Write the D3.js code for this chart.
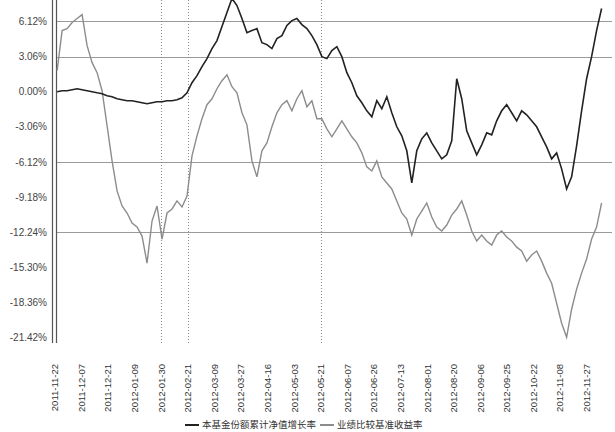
<!DOCTYPE html>
<html><head><meta charset="utf-8">
<script src="https://cdn.jsdelivr.net/npm/d3@7"></script>
<style>html,body{margin:0;padding:0;background:#fff;}svg{display:block;}</style>
</head><body>
<script>
const dateLabels = ["2011-11-22","2011-12-07","2011-12-21","2012-01-09","2012-01-30","2012-02-21","2012-03-09","2012-03-27","2012-04-16","2012-05-03","2012-05-21","2012-06-07","2012-06-26","2012-07-13","2012-08-01","2012-08-20","2012-09-06","2012-09-25","2012-10-22","2012-11-08","2012-11-27"];
const yTicks = [6.12, 3.06, 0.00, -3.06, -6.12, -9.18, -12.24, -15.30, -18.36, -21.42];
const gridTicks = [6.12, 3.06, -6.12, -12.24];
const markerLabels = [4, 5, 10];
const seriesNames = ["本基金份额累计净值增长率", "业绩比较基准收益率"];
const fundValues = [0.00,0.09,0.09,0.17,0.26,0.17,0.09,0.00,-0.09,-0.17,
-0.35,-0.44,-0.61,-0.70,-0.78,-0.78,-0.87,-0.96,-1.05,-0.96,
-0.87,-0.87,-0.78,-0.78,-0.70,-0.52,-0.09,0.78,1.40,2.18,
2.88,3.75,4.45,5.67,6.89,8.11,7.50,6.37,5.14,5.32,
5.49,4.27,4.10,3.75,4.62,4.88,5.76,6.19,6.37,5.84,
5.49,4.88,4.10,3.05,2.88,3.58,3.92,3.05,1.66,0.78,
-0.35,-0.96,-1.66,-2.18,-0.78,-1.48,-0.44,-1.83,-3.05,-3.84,
-5.14,-7.94,-5.14,-4.10,-3.58,-4.45,-5.14,-5.84,-5.49,-4.27,
1.13,-0.61,-3.40,-4.45,-5.49,-4.62,-3.58,-3.75,-2.53,-1.66,
-1.13,-1.83,-2.53,-1.66,-2.01,-2.53,-3.05,-3.92,-4.80,-5.84,
-5.32,-6.71,-8.46,-7.41,-4.71,-1.66,1.13,3.05,5.32,7.24];
const benchValues = [1.83,5.32,5.49,6.02,6.37,6.71,4.01,2.53,1.66,0.09,
-2.96,-6.02,-8.63,-9.94,-10.55,-11.42,-11.77,-12.56,-14.91,-11.25,
-9.94,-12.82,-10.55,-10.20,-9.50,-10.03,-9.07,-5.58,-3.84,-2.35,
-1.13,-0.61,0.26,0.96,1.48,0.44,-0.09,-1.83,-2.88,-6.02,
-7.41,-5.14,-4.45,-3.05,-1.83,-1.13,-0.78,-1.66,-0.61,0.09,
-1.31,-0.78,-2.35,-2.35,-3.23,-3.92,-3.23,-2.53,-3.23,-3.92,
-4.45,-5.32,-6.54,-6.89,-6.02,-7.41,-7.94,-8.46,-9.50,-10.55,
-11.07,-12.47,-11.07,-10.38,-9.68,-10.90,-11.77,-12.12,-11.60,-10.73,
-10.20,-9.50,-10.73,-12.12,-12.99,-12.47,-12.99,-13.34,-12.47,-12.12,
-12.64,-12.99,-13.52,-13.86,-14.74,-14.21,-13.86,-14.74,-15.78,-16.66,
-18.40,-20.14,-21.36,-18.92,-17.18,-15.78,-14.56,-12.82,-11.77,-9.68];
const seriesStart = 0.08, seriesEnd = 20.56; // in label-period units

const W = 615, H = 432;
const svg = d3.select("body").append("svg").attr("width", W).attr("height", H);
const x = d3.scaleLinear().domain([0, 20]).range([55, 586.7]);
const y = d3.scaleLinear().domain([-21.86, 7.98]).range([343, 0]);
const plotTop = 0, plotBottom = 343, plotRight = 612;
const numFont = "'Liberation Sans', Arial, sans-serif";

// horizontal gridlines
svg.append("g").selectAll("line").data(gridTicks).join("line")
  .attr("x1", x(0) + 1).attr("x2", plotRight)
  .attr("y1", d => Math.round(y(d)) + 0.5).attr("y2", d => Math.round(y(d)) + 0.5)
  .attr("stroke", "#9a9a9a").attr("stroke-width", 1);

// vertical dotted marker lines
svg.append("g").selectAll("line").data(markerLabels).join("line")
  .attr("x1", d => Math.round(x(d)) + 0.5).attr("x2", d => Math.round(x(d)) + 0.5)
  .attr("y1", plotTop).attr("y2", plotBottom + 2)
  .attr("stroke", "#8a8a8a").attr("stroke-width", 1).attr("stroke-dasharray", "1,2");

// double axis line at left
[x(0) - 3, x(0) + 1].forEach(px => {
  svg.append("line").attr("x1", Math.round(px) + 0.5).attr("x2", Math.round(px) + 0.5)
    .attr("y1", plotTop).attr("y2", plotBottom)
    .attr("stroke", "#555").attr("stroke-width", 1.2);
});

// y tick labels
svg.append("g").selectAll("text").data(yTicks).join("text")
  .attr("x", 47).attr("y", d => y(d)).attr("dy", "0.35em")
  .attr("text-anchor", "end").attr("font-family", numFont).attr("font-size", 10)
  .attr("fill", "#444").text(d => d.toFixed(2) + "%");

// x tick labels (rotated)
svg.append("g").selectAll("text").data(dateLabels).join("text")
  .attr("transform", (d, i) => `translate(${x(i)},${364}) rotate(-90)`)
  .attr("dy", "0.35em").attr("text-anchor", "end")
  .attr("font-family", numFont).attr("font-size", 9.5).attr("fill", "#333")
  .text(d => d);

// series lines
function sx(i, n) { return x(seriesStart + (seriesEnd - seriesStart) * i / (n - 1)); }
const line = d3.line().x((d, i, arr) => sx(i, arr.length)).y(d => y(d));
svg.append("path").datum(benchValues).attr("d", line)
  .attr("fill", "none").attr("stroke", "#8c8c8c").attr("stroke-width", 1.4);
svg.append("path").datum(fundValues).attr("d", line)
  .attr("fill", "none").attr("stroke", "#222").attr("stroke-width", 1.6);

// legend
const legendY = 425;
const cjk = "'Noto Sans CJK SC', sans-serif";
const lg = svg.append("g");
const items = [{name: seriesNames[0], color: "#222", x0: 185}, {name: seriesNames[1], color: "#8c8c8c", x0: 320}];
items.forEach(it => {
  lg.append("line").attr("x1", it.x0).attr("x2", it.x0 + 14).attr("y1", legendY).attr("y2", legendY)
    .attr("stroke", it.color).attr("stroke-width", 2);
  lg.append("text").attr("x", it.x0 + 17).attr("y", legendY).attr("dy", "0.35em")
    .attr("font-family", cjk).attr("font-size", 9.5).attr("fill", "#333").text(it.name);
});
</script>
</body></html>
